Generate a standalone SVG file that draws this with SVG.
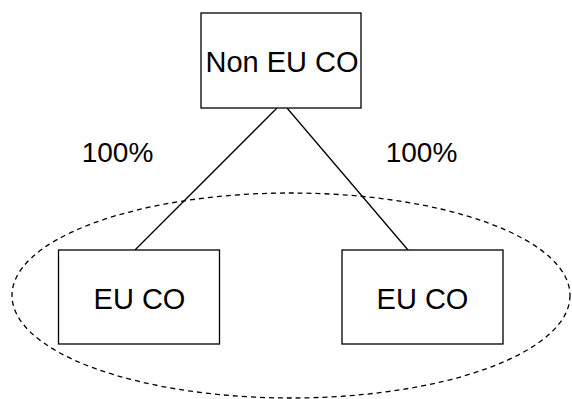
<svg xmlns="http://www.w3.org/2000/svg" width="572" height="399" viewBox="0 0 572 399">
<style>
.box{fill:#fff;stroke:#000;stroke-width:1.3}
.t{font-family:"Liberation Sans",Arial,sans-serif;font-size:29px;fill:#000;text-anchor:middle}
.c{stroke:#000;stroke-width:1.3;fill:none}
</style>
<rect width="572" height="399" fill="#fff"/>
<ellipse id="group" cx="291" cy="295.5" rx="279" ry="102.5" fill="none" stroke="#000" stroke-width="1.3" stroke-dasharray="5,4"/>
<g id="connectors">
<line class="c" x1="277" y1="108" x2="135" y2="250"/>
<line class="c" x1="287" y1="108" x2="408" y2="250"/>
</g>
<g id="top">
<rect class="box" x="201" y="13" width="160" height="95"/>
<text class="t" x="282" y="72">Non EU CO</text>
</g>
<g id="left">
<rect class="box" x="58.5" y="250" width="161" height="94"/>
<text class="t" x="139.5" y="309">EU CO</text>
</g>
<g id="right">
<rect class="box" x="342" y="250" width="161" height="94"/>
<text class="t" x="422.5" y="309">EU CO</text>
</g>
<text class="t" style="font-size:28px" x="117.5" y="162">100%</text>
<text class="t" style="font-size:28px" x="421.5" y="162">100%</text>
</svg>
